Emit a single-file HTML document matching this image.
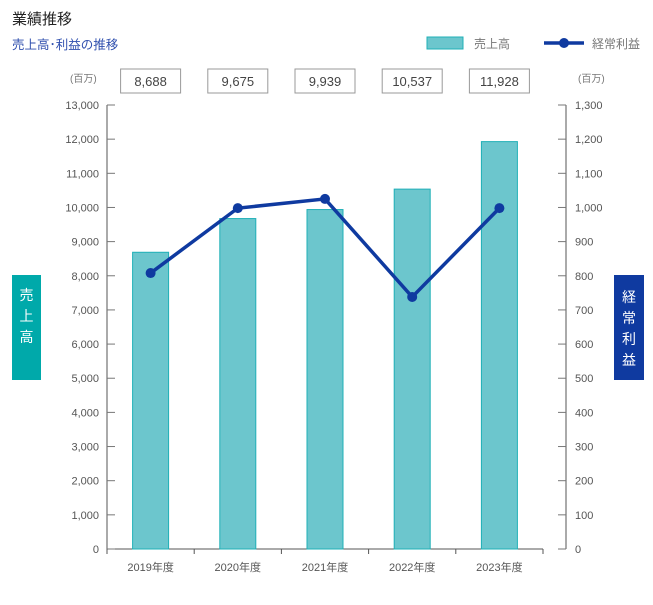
<!DOCTYPE html>
<html><head><meta charset="utf-8"><style>
body{margin:0;background:#fff;font-family:"Liberation Sans","Noto Sans CJK JP",sans-serif;}
svg text{font-family:"Liberation Sans","Noto Sans CJK JP",sans-serif;}
</style></head><body>
<svg width="653" height="600" viewBox="0 0 653 600">
<text x="12" y="24" font-size="15" fill="#222">業績推移</text>
<text x="12" y="49" font-size="12.5" fill="#2f4fae">売上高･利益の推移</text>
<g><rect x="427" y="37" width="36" height="12" fill="#6cc6cd" stroke="#1fb0b7"/><text x="474" y="48" font-size="12" fill="#777">売上高</text></g>
<g><line x1="544" y1="43" x2="584" y2="43" stroke="#0f3aa0" stroke-width="3.5"/><circle cx="564" cy="43" r="5" fill="#0f3aa0"/><text x="592" y="48" font-size="12" fill="#777">経常利益</text></g>
<text x="70" y="82" font-size="10" fill="#777">(百万)</text>
<text x="578" y="82" font-size="10" fill="#777">(百万)</text>
<g id="g"></g>
<rect x="12" y="275" width="29" height="105" fill="#00a9aa"/>
<text x="26.5" y="300" font-size="14" fill="#fff" text-anchor="middle"><tspan x="26.5" dy="0">売</tspan><tspan x="26.5" dy="21">上</tspan><tspan x="26.5" dy="21">高</tspan></text>
<rect x="614" y="275" width="30" height="105" fill="#0f3aa0"/>
<text x="629" y="302" font-size="14" fill="#fff" text-anchor="middle"><tspan x="629" dy="0">経</tspan><tspan x="629" dy="21">常</tspan><tspan x="629" dy="21">利</tspan><tspan x="629" dy="21">益</tspan></text>
</svg>
<script>
const categories=["2019年度","2020年度","2021年度","2022年度","2023年度"];
const sales=[8688,9675,9939,10537,11928];
const salesLabels=["8,688","9,675","9,939","10,537","11,928"];
const profit=[808,998,1025,738,998];
const leftTicks=[0,1000,2000,3000,4000,5000,6000,7000,8000,9000,10000,11000,12000,13000];
const rightTicks=[0,100,200,300,400,500,600,700,800,900,1000,1100,1200,1300];
const NS="http://www.w3.org/2000/svg";
const g=document.getElementById('g');
const X0=107,X1=543,Y0=549,Y1=105,RX=566;
const band=(X1-X0)/categories.length;
const xc=i=>X0+band*(i+0.5);
const yl=v=>Y0-(v/13000)*(Y0-Y1);
const yr=v=>Y0-(v/1300)*(Y0-Y1);
function el(t,a,p){const e=document.createElementNS(NS,t);for(const k in a)e.setAttribute(k,a[k]);(p||g).appendChild(e);return e;}
let e;
e=el('line',{x1:X0,y1:Y1,x2:X0,y2:Y0,stroke:'#555','stroke-width':1});


e=el('line',{x1:RX,y1:Y1,x2:RX,y2:Y0,stroke:'#555','stroke-width':1});


e=el('line',{x1:X0,y1:Y0,x2:X1,y2:Y0,stroke:'#555','stroke-width':1});


leftTicks.forEach(v=>{const y=yl(v);
el('line',{x1:X0,y1:y,x2:X0+8,y2:y,stroke:'#777'});
e=el('text',{x:X0-8,y:y+4,'font-size':11,fill:'#555','text-anchor':'end'});e.textContent=v.toLocaleString('en-US');

});
rightTicks.forEach(v=>{const y=yr(v);
el('line',{x1:RX-8,y1:y,x2:RX,y2:y,stroke:'#777'});
e=el('text',{x:RX+9,y:y+4,'font-size':11,fill:'#555'});e.textContent=v.toLocaleString('en-US');

});
for(let i=0;i<=categories.length;i++){el('line',{x1:X0+band*i,y1:Y0,x2:X0+band*i,y2:Y0+5,stroke:'#555'});}
categories.forEach((c,i)=>{
e=el('rect',{x:xc(i)-18,y:yl(sales[i]),width:36,height:Y0-yl(sales[i]),fill:'#6cc6cd',stroke:'#1fb0b7'});


e=el('text',{x:xc(i),y:Y0+22,'font-size':11,fill:'#555','text-anchor':'middle'});e.textContent=c;


e=el('rect',{x:xc(i)-30,y:69,width:60,height:24,fill:'#fff',stroke:'#999'});


e=el('text',{x:xc(i),y:86,'font-size':13,fill:'#444','text-anchor':'middle'});e.textContent=salesLabels[i];


});
e=el('polyline',{points:profit.map((v,i)=>xc(i)+','+yr(v)).join(' '),fill:'none',stroke:'#0f3aa0','stroke-width':3.5});


profit.forEach((v,i)=>{e=el('circle',{cx:xc(i),cy:yr(v),r:5,fill:'#0f3aa0'});

});
</script>
</body></html>
